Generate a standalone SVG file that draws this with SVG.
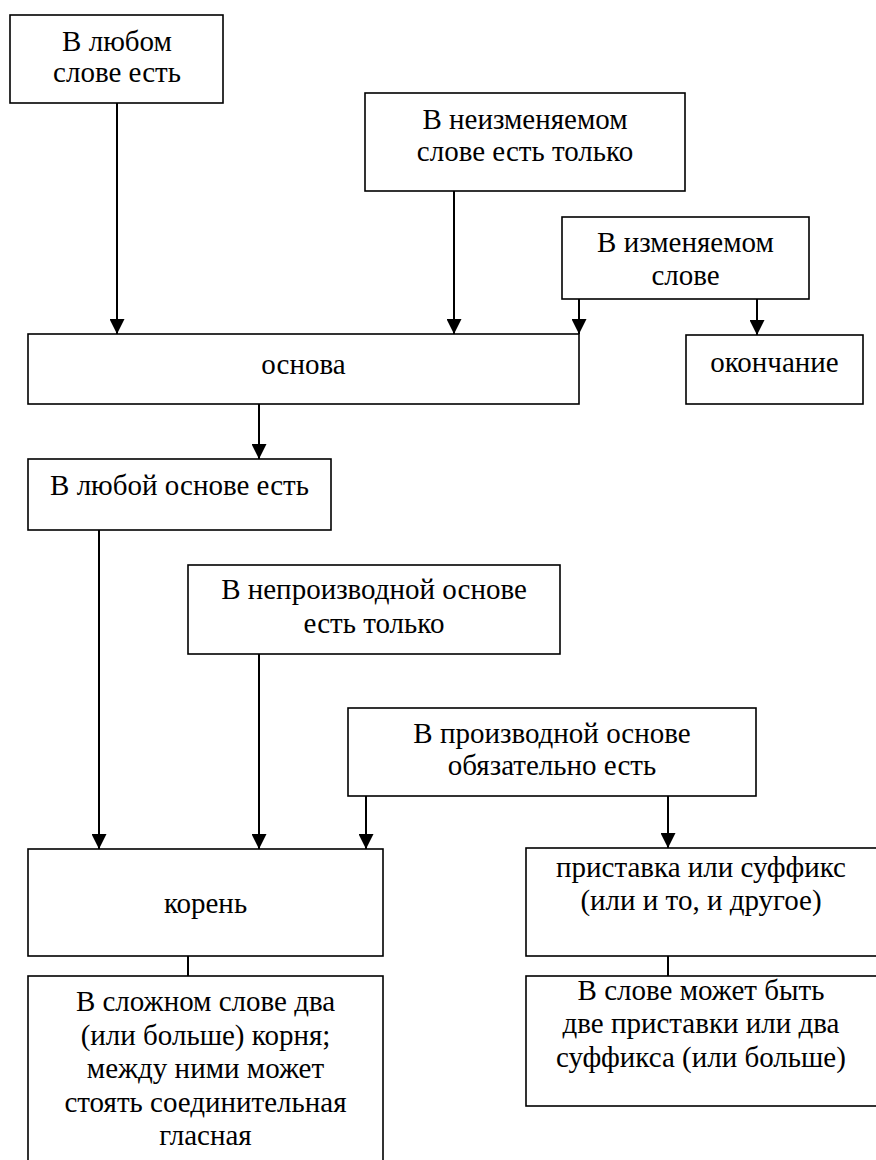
<svg xmlns="http://www.w3.org/2000/svg" width="876" height="1160" viewBox="0 0 876 1160">
<style>
  .box { fill: #ffffff; stroke: #000000; stroke-width: 1.6; }
  .t { font-family: 'Liberation Serif', 'Times New Roman', serif; font-size: 29px; fill: #000000; text-anchor: middle; }
  .c { stroke: #000000; stroke-width: 2; fill: none; }
  .a { marker-end: url(#arr); }
</style>
<defs>
  <marker id="arr" markerUnits="userSpaceOnUse" markerWidth="15" markerHeight="15" refX="15" refY="7.5" orient="auto">
    <path d="M0,0 L15,7.5 L0,15 z" fill="#000000"/>
  </marker>
</defs>
<rect x="0" y="0" width="876" height="1160" fill="#ffffff"/>

<g id="connectors">
  <line class="c a" x1="117" y1="103" x2="117" y2="334"/>
  <line class="c a" x1="454" y1="191" x2="454" y2="334"/>
  <line class="c a" x1="579" y1="299" x2="579" y2="334"/>
  <line class="c a" x1="757" y1="299" x2="757" y2="335"/>
  <line class="c a" x1="259" y1="404" x2="259" y2="459"/>
  <line class="c a" x1="99" y1="530" x2="99" y2="849"/>
  <line class="c a" x1="259" y1="654" x2="259" y2="849"/>
  <line class="c a" x1="366" y1="796" x2="366" y2="849"/>
  <line class="c a" x1="668" y1="796" x2="668" y2="848"/>
  <line class="c" x1="188" y1="956" x2="188" y2="976"/>
  <line class="c" x1="668" y1="956" x2="668" y2="976"/>
</g>

<g id="n_any_word">
  <rect class="box" x="10" y="15" width="213" height="88"/>
  <text class="t" x="117" y="51">В любом</text>
  <text class="t" x="117" y="82">слове есть</text>
</g>

<g id="n_unchangeable">
  <rect class="box" x="365" y="93" width="320" height="98"/>
  <text class="t" x="525" y="129">В неизменяемом</text>
  <text class="t" x="525" y="161">слове есть только</text>
</g>

<g id="n_changeable">
  <rect class="box" x="562" y="217" width="247" height="82"/>
  <text class="t" x="685.5" y="252">В изменяемом</text>
  <text class="t" x="685.5" y="285">слове</text>
</g>

<g id="n_osnova">
  <rect class="box" x="28" y="334" width="551" height="70"/>
  <text class="t" x="303.5" y="374">основа</text>
</g>

<g id="n_okonchanie">
  <rect class="box" x="686" y="335" width="177" height="69"/>
  <text class="t" x="774.5" y="372">окончание</text>
</g>

<g id="n_any_base">
  <rect class="box" x="28" y="459" width="303" height="71"/>
  <text class="t" x="179.5" y="495">В любой основе есть</text>
</g>

<g id="n_nonderived">
  <rect class="box" x="188" y="565" width="372" height="89"/>
  <text class="t" x="374" y="599">В непроизводной основе</text>
  <text class="t" x="374" y="633">есть только</text>
</g>

<g id="n_derived">
  <rect class="box" x="348" y="708" width="408" height="88"/>
  <text class="t" x="552" y="743">В производной основе</text>
  <text class="t" x="552" y="775">обязательно есть</text>
</g>

<g id="n_koren">
  <rect class="box" x="28" y="849" width="355" height="107"/>
  <text class="t" x="205.5" y="913">корень</text>
</g>

<g id="n_prefix_suffix">
  <rect class="box" x="526" y="848" width="352" height="108"/>
  <text class="t" x="701" y="877">приставка или суффикс</text>
  <text class="t" x="701" y="910">(или и то, и другое)</text>
</g>

<g id="n_compound">
  <rect class="box" x="28" y="976" width="355" height="190"/>
  <text class="t" x="205.5" y="1011">В сложном слове два</text>
  <text class="t" x="205.5" y="1045">(или больше) корня;</text>
  <text class="t" x="205.5" y="1078">между ними может</text>
  <text class="t" x="205.5" y="1112">стоять соединительная</text>
  <text class="t" x="205.5" y="1145">гласная</text>
</g>

<g id="n_multiple">
  <rect class="box" x="526" y="976" width="352" height="130"/>
  <text class="t" x="701" y="1000">В слове может быть</text>
  <text class="t" x="701" y="1033">две приставки или два</text>
  <text class="t" x="701" y="1067">суффикса (или больше)</text>
</g>
</svg>
